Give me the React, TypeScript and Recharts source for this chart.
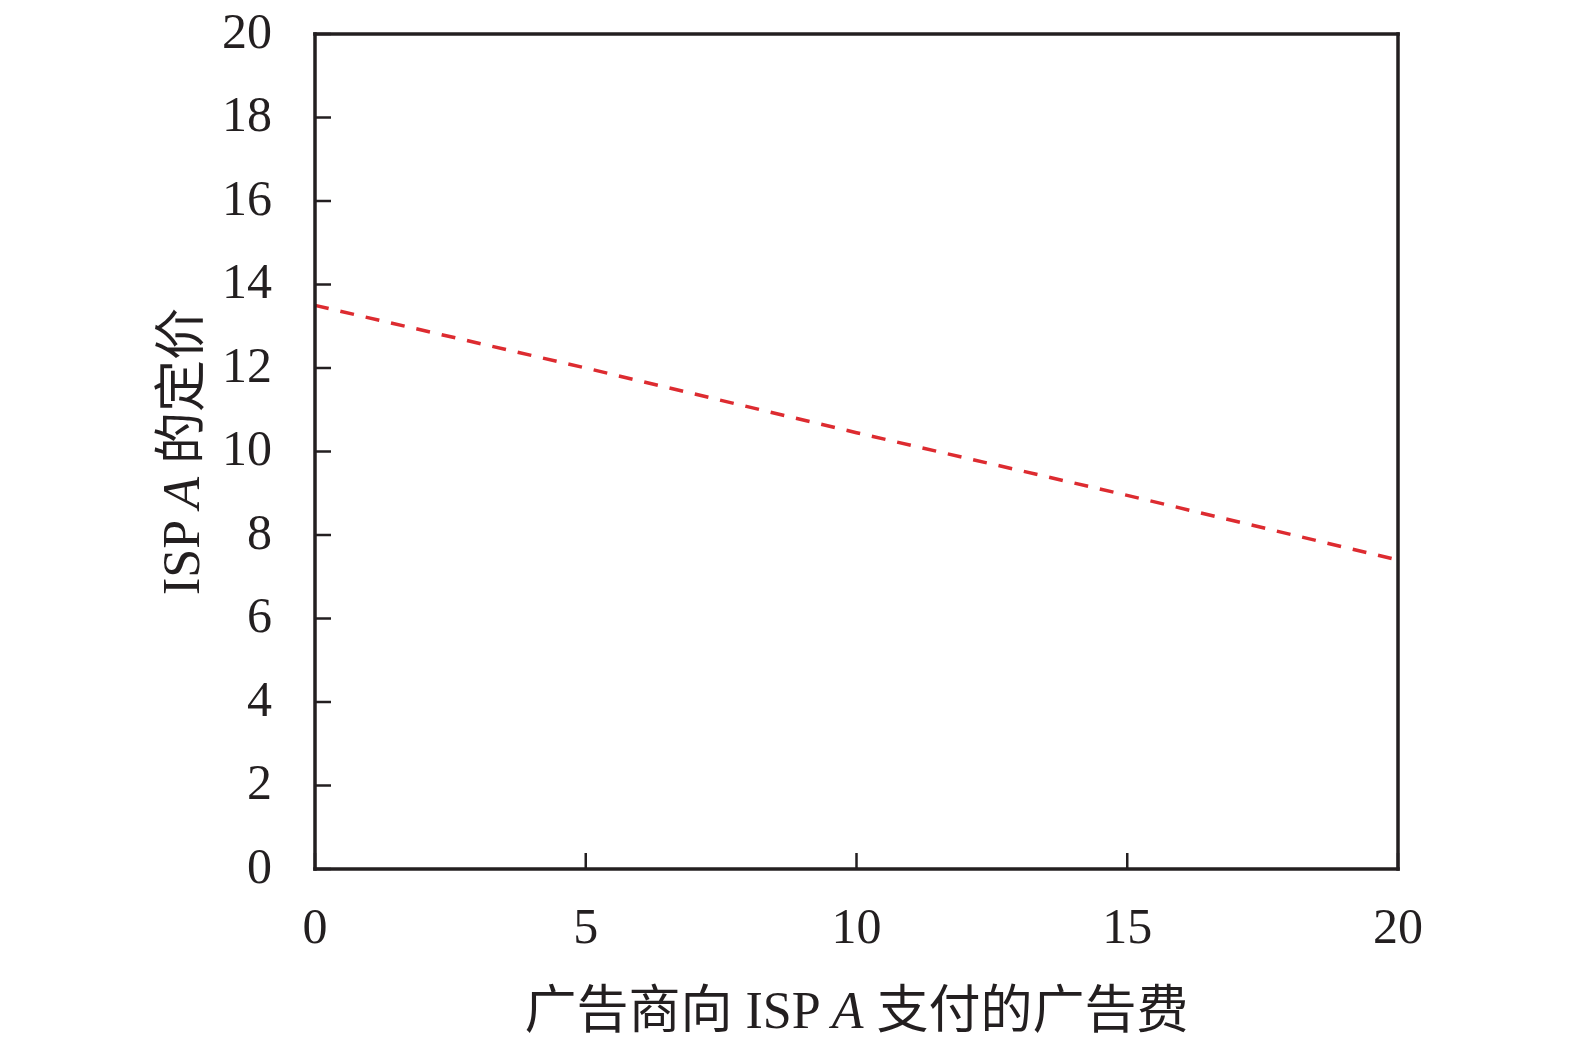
import React from 'react';
import { LineChart, Line, XAxis, YAxis, ReferenceLine } from 'recharts';

const xValues = [0, 5, 10, 15, 20];
const priceValues = [13.5, 12.0, 10.45, 8.95, 7.4];
const xTicks = [0, 5, 10, 15, 20];
const yTicks = [0, 2, 4, 6, 8, 10, 12, 14, 16, 18, 20];

const data = xValues.map((x, i) => ({ x, price: priceValues[i] }));

const INK = '#231f20';
const FONT = '"Liberation Serif", "Times New Roman", "Noto Sans CJK SC", serif';

const YLabel = (props: any) => {
  const vb = props.viewBox || {};
  const cx = 181;
  const cy = vb.y + vb.height / 2;
  return (
    <text
      x={cx}
      y={cy}
      transform={`rotate(-90, ${cx}, ${cy})`}
      textAnchor="middle"
      dominantBaseline="central"
      fill={INK}
      fontSize={52}
      fontFamily={FONT}
    >
      ISP <tspan fontStyle="italic">A</tspan> 的定价
    </text>
  );
};

const XLabel = (props: any) => {
  const vb = props.viewBox || {};
  const cx = vb.x + vb.width / 2;
  return (
    <text
      x={cx}
      y={1010}
      textAnchor="middle"
      dominantBaseline="central"
      fill={INK}
      fontSize={52}
      fontFamily={FONT}
    >
      广告商向 ISP <tspan fontStyle="italic">A</tspan> 支付的广告费
    </text>
  );
};

export default function App() {
  return (
    <div style={{ position: 'absolute', left: 0, top: 0, background: '#fff' }}>
      <LineChart
        width={1575}
        height={1050}
        data={data}
        margin={{ top: 34, right: 177, bottom: 101, left: 0 }}
      >
        <XAxis
          dataKey="x"
          type="number"
          domain={[0, 20]}
          ticks={xTicks}
          height={80}
          tickSize={-16}
          tickMargin={54}
          axisLine={{ stroke: INK, strokeWidth: 3.5, strokeLinecap: 'square' }}
          tickLine={{ stroke: INK, strokeWidth: 2.5 }}
          tick={{ fill: INK, fontSize: 50, fontFamily: FONT }}
          label={<XLabel />}
        />
        <YAxis
          type="number"
          domain={[0, 20]}
          ticks={yTicks}
          width={315}
          tickSize={-16}
          tickMargin={59}
          axisLine={{ stroke: INK, strokeWidth: 3.5, strokeLinecap: 'square' }}
          tickLine={{ stroke: INK, strokeWidth: 2.5 }}
          tick={{ fill: INK, fontSize: 50, fontFamily: FONT, dy: -4 }}
          label={<YLabel />}
        />
        <ReferenceLine y={20} stroke={INK} strokeWidth={3.5} strokeLinecap="square" />
        <ReferenceLine x={20} stroke={INK} strokeWidth={3.5} strokeLinecap="square" />
        <Line
          type="linear"
          dataKey="price"
          stroke="#dd2b30"
          strokeWidth={3.5}
          strokeDasharray="14 12"
          dot={false}
          activeDot={false}
          isAnimationActive={false}
        />
      </LineChart>
    </div>
  );
}
